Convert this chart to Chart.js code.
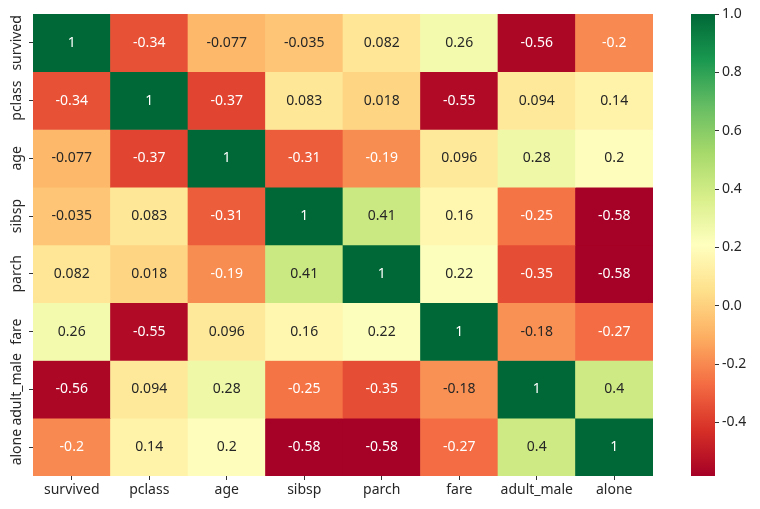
<!DOCTYPE html>
<html>
<head>
<meta charset="utf-8">
<script src="https://cdn.jsdelivr.net/npm/chart.js@4"></script>
<style>
  body { margin: 0; background: #fff; }
  #wrap { position: relative; width: 760px; height: 509px; }
  #heat { position: absolute; left: 0; top: 0; }
  #bar { position: absolute; left: 680px; top: 0; }
</style>
</head>
<body>
<div id="wrap">
  <canvas id="heat" width="760" height="509"></canvas>
  <canvas id="bar" width="80" height="509"></canvas>
</div>
<script>
const labels = ['survived', 'pclass', 'age', 'sibsp', 'parch', 'fare', 'adult_male', 'alone'];

const survived  = [1, -0.34, -0.077, -0.035, 0.082, 0.26, -0.56, -0.2];
const pclass    = [-0.34, 1, -0.37, 0.083, 0.018, -0.55, 0.094, 0.14];
const age       = [-0.077, -0.37, 1, -0.31, -0.19, 0.096, 0.28, 0.2];
const sibsp     = [-0.035, 0.083, -0.31, 1, 0.41, 0.16, -0.25, -0.58];
const parch     = [0.082, 0.018, -0.19, 0.41, 1, 0.22, -0.35, -0.58];
const fare      = [0.26, -0.55, 0.096, 0.16, 0.22, 1, -0.18, -0.27];
const adultMale = [-0.56, 0.094, 0.28, -0.25, -0.35, -0.18, 1, 0.4];
const alone     = [-0.2, 0.14, 0.2, -0.58, -0.58, -0.27, 0.4, 1];

const rows = [survived, pclass, age, sibsp, parch, fare, adultMale, alone];
const colorbarTicks = [-0.4, -0.2, 0, 0.2, 0.4, 0.6, 0.8, 1.0];

const vmin = -0.584;
const vmax = 1;

// RdYlGn
const stops = ['#a50026', '#d73027', '#f46d43', '#fdae61', '#fee08b', '#ffffbf',
  '#d9ef8b', '#a6d96a', '#66bd63', '#1a9850', '#006837'];

const FONT = '"Noto Sans", sans-serif';
const TEXT = '#262626';

function hexToRgb(h) {
  return [1, 3, 5].map((i) => parseInt(h.substr(i, 2), 16));
}

function cmap(v) {
  let t = (v - vmin) / (vmax - vmin);
  t = Math.max(0, Math.min(1, t));
  const pos = t * (stops.length - 1);
  const i = Math.min(Math.floor(pos), stops.length - 2);
  const f = pos - i;
  const a = hexToRgb(stops[i]);
  const b = hexToRgb(stops[i + 1]);
  return a.map((c, k) => Math.round(c + (b[k] - c) * f));
}

function luminance(rgb) {
  const lin = rgb.map((c) => {
    c = c / 255;
    return c <= 0.03928 ? c / 12.92 : Math.pow((c + 0.055) / 1.055, 2.4);
  });
  return 0.2126 * lin[0] + 0.7152 * lin[1] + 0.0722 * lin[2];
}

const rgbStr = (c) => `rgb(${c[0]}, ${c[1]}, ${c[2]})`;

const datasets = rows.map((row, i) => ({
  label: labels[i],
  data: row.map(() => 1),
  values: row,
  backgroundColor: row.map((v) => rgbStr(cmap(v))),
  borderWidth: 0,
  barPercentage: 1,
  categoryPercentage: 1
}));

const cellText = {
  id: 'cellText',
  afterDatasetsDraw(chart) {
    const { ctx } = chart;
    ctx.save();
    ctx.font = '14px ' + FONT;
    ctx.textAlign = 'center';
    ctx.textBaseline = 'middle';
    chart.data.datasets.forEach((ds, i) => {
      chart.getDatasetMeta(i).data.forEach((el, j) => {
        const v = ds.values[j];
        ctx.fillStyle = luminance(cmap(v)) > 0.408 ? TEXT : '#ffffff';
        ctx.fillText(String(v), el.x, (el.y + el.base) / 2);
      });
    });
    ctx.restore();
  }
};

const rowLabels = {
  id: 'rowLabels',
  afterDraw(chart) {
    const { ctx } = chart;
    const yScale = chart.scales.y;
    ctx.save();
    ctx.font = '14px ' + FONT;
    ctx.fillStyle = TEXT;
    ctx.textAlign = 'center';
    ctx.textBaseline = 'middle';
    labels.forEach((name, i) => {
      ctx.save();
      ctx.translate(17, yScale.getPixelForValue(i + 0.5));
      ctx.rotate(-Math.PI / 2);
      ctx.fillText(name, 0, 0);
      ctx.restore();
    });
    ctx.restore();
  }
};

new Chart(document.getElementById('heat'), {
  type: 'bar',
  data: { labels, datasets },
  options: {
    responsive: false,
    animation: false,
    layout: { padding: { top: 14, right: 107, left: 0, bottom: 0 } },
    plugins: { legend: { display: false }, tooltip: { enabled: false } },
    scales: {
      x: {
        stacked: true,
        grid: { offset: false, drawOnChartArea: false, drawTicks: true, tickLength: 4, color: '#333' },
        border: { display: false },
        ticks: { color: TEXT, font: { family: FONT, size: 14 }, padding: 2, maxRotation: 0 },
        afterFit(scale) { scale.height = 33; }
      },
      y: {
        type: 'linear',
        stacked: true,
        reverse: true,
        min: 0,
        max: 8,
        grid: { drawOnChartArea: false, drawTicks: true, tickLength: 4, color: '#333' },
        border: { display: false },
        ticks: { callback: () => '', padding: 0 },
        afterBuildTicks(scale) {
          scale.ticks = labels.map((_, i) => ({ value: i + 0.5 }));
        },
        afterFit(scale) { scale.width = 33; }
      }
    }
  },
  plugins: [cellText, rowLabels]
});

new Chart(document.getElementById('bar'), {
  type: 'bar',
  data: {
    labels: [''],
    datasets: [{
      data: [[vmin, vmax]],
      borderWidth: 0,
      barPercentage: 1,
      categoryPercentage: 1,
      backgroundColor(context) {
        const { chart } = context;
        const { chartArea } = chart;
        if (!chartArea) return stops[0];
        const g = chart.ctx.createLinearGradient(0, chartArea.bottom, 0, chartArea.top);
        stops.forEach((c, i) => g.addColorStop(i / (stops.length - 1), c));
        return g;
      }
    }]
  },
  options: {
    responsive: false,
    animation: false,
    layout: { padding: { top: 14, bottom: 33, left: 11, right: 0 } },
    plugins: { legend: { display: false }, tooltip: { enabled: false } },
    scales: {
      x: { display: false },
      y: {
        position: 'right',
        min: vmin,
        max: vmax,
        grid: { drawOnChartArea: false, drawTicks: true, tickLength: 4, color: '#333' },
        border: { display: false },
        ticks: {
          color: TEXT,
          font: { family: FONT, size: 14 },
          padding: 3,
          callback: (v) => v.toFixed(1)
        },
        afterBuildTicks(scale) {
          scale.ticks = colorbarTicks.map((v) => ({ value: v }));
        },
        afterFit(scale) { scale.width = 45; }
      }
    }
  }
});
</script>
</body>
</html>
